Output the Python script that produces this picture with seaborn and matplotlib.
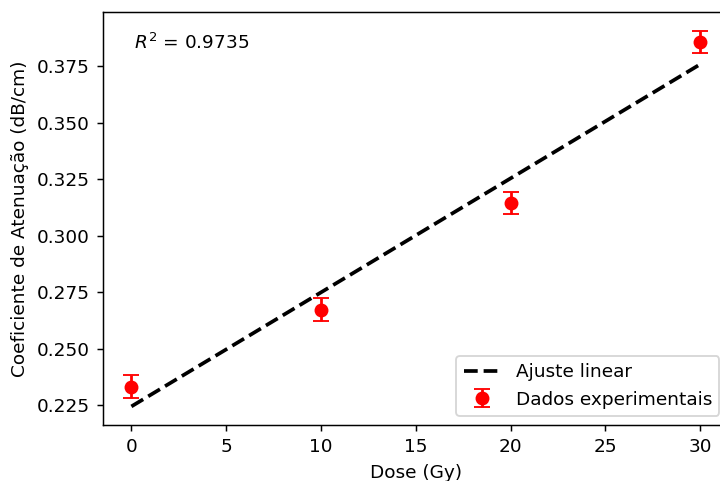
import numpy as np
import pandas as pd
import matplotlib
matplotlib.use("Agg")
import matplotlib.pyplot as plt
import seaborn as sns

dose = [0, 10, 20, 30]
coef = [0.2331, 0.2672, 0.3144, 0.3856]
err = [0.005, 0.005, 0.005, 0.005]
r2_text = r"$R^2$ = 0.9735"

DPI = 133.3
fig, ax = plt.subplots(figsize=(720 / DPI, 481 / DPI), dpi=DPI)
fig.subplots_adjust(left=0.143, right=1.012, top=0.975, bottom=0.116)

slope, intercept = np.polyfit(dose, coef, 1)
fit_df = pd.DataFrame({"x": dose, "y": np.polyval([slope, intercept], dose)})
sns.lineplot(data=fit_df, x="x", y="y", ax=ax, color="black", linestyle="--",
             linewidth=2, label="Ajuste linear")
ax.errorbar(dose, coef, yerr=err, fmt="o", color="red", markersize=6.5,
            capsize=4.5, label="Dados experimentais")

ax.text(0.05, 0.95, r2_text, transform=ax.transAxes, va="top", ha="left")
ax.set_xlabel("Dose (Gy)")
ax.set_ylabel("Coeficiente de Atenuação (dB/cm)")
ax.set_xticks([0, 5, 10, 15, 20, 25, 30])
ax.set_yticks([0.225, 0.25, 0.275, 0.3, 0.325, 0.35, 0.375])
ax.yaxis.set_major_formatter(matplotlib.ticker.FormatStrFormatter("%.3f"))
ax.legend(loc="lower right")
fig.savefig("out.png", dpi=DPI)
